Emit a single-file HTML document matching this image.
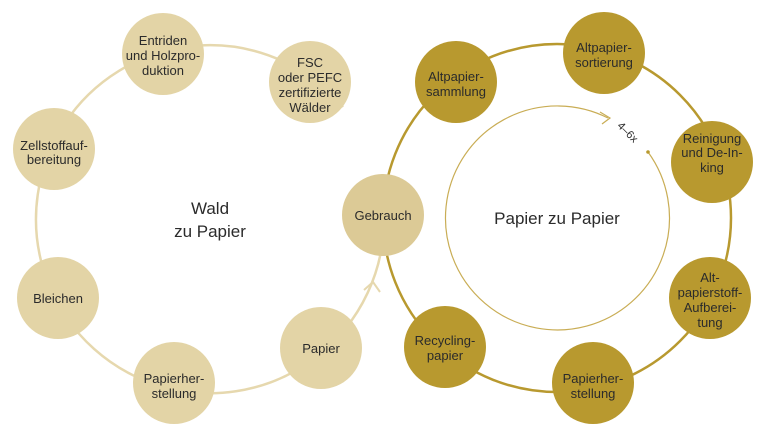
<!DOCTYPE html>
<html><head><meta charset="utf-8"><style>
body{margin:0;background:#fff}
svg text{font-family:"Liberation Sans",sans-serif;fill:#2b2b2b;text-anchor:middle}
</style></head><body>
<svg width="768" height="437" viewBox="0 0 768 437">
<path d="M 384 219 A 174 174 0 1 1 343 107" fill="none" stroke="#e6d8ae" stroke-width="2.5"/>
<circle cx="557" cy="218" r="174" fill="none" stroke="#b8992f" stroke-width="2.5"/>
<path d="M 608 118 A 112 112 0 1 0 648 152" fill="none" stroke="#c9ad55" stroke-width="1.2"/>
<polyline points="600,112 610,118 602,124" fill="none" stroke="#c9ad55" stroke-width="1.2"/>
<circle cx="648" cy="152" r="1.8" fill="#b8992f"/>
<text x="628" y="136" font-size="11" transform="rotate(45 628 132)">4–6x</text>
<polyline points="364,290 373,282 380,292" fill="none" stroke="#e6d8ae" stroke-width="2"/>
<g fill="#e3d4a6">
<circle cx="163" cy="54" r="41"/><circle cx="310" cy="82" r="41"/>
<circle cx="54" cy="149" r="41"/><circle cx="58" cy="298" r="41"/>
<circle cx="174" cy="383" r="41"/><circle cx="321" cy="348" r="41"/>
<circle cx="383" cy="215" r="41" fill="#dcca96"/>
</g>
<g fill="#b8992f">
<circle cx="456" cy="82" r="41"/><circle cx="604" cy="53" r="41"/>
<circle cx="712" cy="162" r="41"/><circle cx="710" cy="298" r="41"/>
<circle cx="593" cy="383" r="41"/><circle cx="445" cy="347" r="41"/>
</g>
<g font-size="13">
<text x="163" y="45">Entriden</text><text x="163" y="60">und Holzpro-</text><text x="163" y="75">duktion</text>
<text x="310" y="67">FSC</text><text x="310" y="82">oder PEFC</text><text x="310" y="97">zertifizierte</text><text x="310" y="112">Wälder</text>
<text x="54" y="150">Zellstoffauf-</text><text x="54" y="164">bereitung</text>
<text x="58" y="303">Bleichen</text>
<text x="174" y="383">Papierher-</text><text x="174" y="398">stellung</text>
<text x="321" y="353">Papier</text>
<text x="383" y="220">Gebrauch</text>
<text x="456" y="81">Altpapier-</text><text x="456" y="96">sammlung</text>
<text x="604" y="52">Altpapier-</text><text x="604" y="67">sortierung</text>
<text x="712" y="143">Reinigung</text><text x="712" y="157">und De-In-</text><text x="712" y="172">king</text>
<text x="710" y="282">Alt-</text><text x="710" y="297">papierstoff-</text><text x="710" y="312">Aufberei-</text><text x="710" y="327">tung</text>
<text x="593" y="383">Papierher-</text><text x="593" y="398">stellung</text>
<text x="445" y="345">Recycling-</text><text x="445" y="360">papier</text>
</g>
<text x="210" y="214" font-size="17">Wald</text>
<text x="210" y="237" font-size="17">zu Papier</text>
<text x="557" y="224" font-size="17">Papier zu Papier</text>
</svg>
</body></html>
